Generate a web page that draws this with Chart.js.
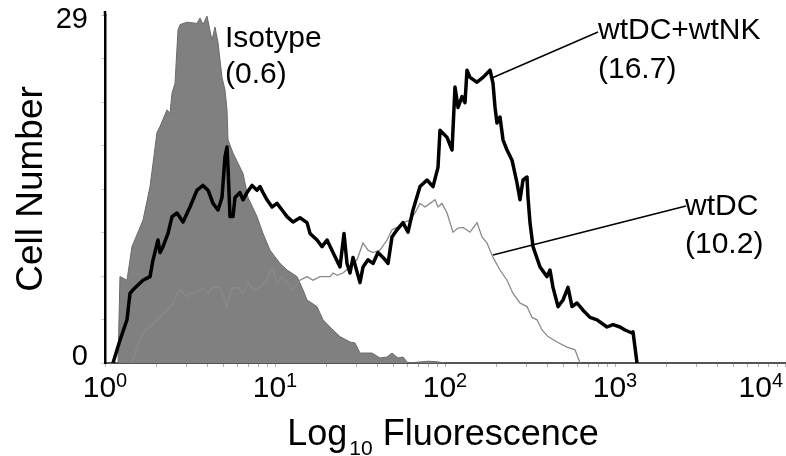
<!DOCTYPE html>
<html><head><meta charset="utf-8">
<script src="https://cdn.jsdelivr.net/npm/chart.js@4/dist/chart.umd.min.js"></script>
<style>html,body{margin:0;padding:0;background:#fff}#wrap{width:786px;height:456px;position:relative}</style>
</head><body><div id="wrap"><canvas id="c" width="786" height="456"></canvas></div>
<script>
// ---- data (fluorescence value, cell number) ----
const isoX = [1.193,1.225,1.347,1.441,1.673,1.840,2.022,2.106,2.316,2.412,2.479,2.581,2.688,2.762,3.037,3.477,3.622,3.772,3.981,4.261,4.437,4.621,4.878,5.080,5.220,5.291,5.662,6.484,6.939,7.838,8.502,9.346,10.70,11.77,13.47,14.61,15.43,17.67,19.16,21.94,24.12,27.62,29.55,31.62,37.21,41.46,45.60,48.77,52.91,56.62,60.59,80,90,100];
const isoY = [0,7.2,6.9,9.7,11.9,14.7,19.2,19.7,21.1,20.8,22.5,23.3,27.75,28.2,28.4,28.3,28.75,28.2,28.9,26.9,28.0,26.7,23.8,22.75,21.1,18.6,17.5,15.8,13.8,12.2,10.8,9.4,8.3,7.75,7.2,6.1,5.25,4.7,3.6,2.75,2.2,1.75,1.67,0.83,0.83,0.42,0.5,0.83,0.42,0.5,0,0.15,0.1,0];

const dcX = [1.441,1.543,1.673,1.917,2.316,2.512,2.762,3.037,3.162,3.477,3.772,4.036,4.261,4.748,5.220,5.586,6.059,6.484,6.939,7.425,8.163,8.975,9.603,10.27,11.00,11.77,12.76,14.03,15.43,16.73,18.40,21.07,21.94,23.16,25.12,27.62,30.37,32.94,35.25,37.72,41.46,45.60,48.77,52.20,56.62,62.26,66.62,71.29,76.28,81.62,87.35,90.96,96.0,102.8,111.4,119.3,127.6,140.3,154.3,165.1,176.7,191.6,210.6,231.6,251.2,276.2,303.7,324.9,347.8,372.1,403.5,456.0,522.0,581.8,622.5];
const dcY = [0,1.33,2.5,3.3,4.4,5.0,6.1,5.5,5.8,5.9,6.3,5.8,6.3,6.3,4.7,6.25,6.3,5.8,6.7,6.1,6.3,6.9,8.0,6.7,7.2,6.7,6.1,6.9,7.2,6.9,7.2,7.2,7.5,7.3,7.5,8.0,8.6,10.0,9.4,9.2,9.4,10.25,11.1,11.3,11.7,11.9,12.5,13.3,13.0,13.3,13.6,13.0,13.3,12.5,10.9,11.25,11.3,10.9,11.7,10.5,10.0,8.8,7.75,6.9,5.8,5.0,4.7,3.8,3.6,2.75,2.2,1.75,1.33,1.1,0];

const nkX = [1.114,1.225,1.347,1.403,1.461,1.673,1.840,1.917,2.050,2.106,2.193,2.348,2.479,2.652,2.877,3.162,3.477,3.772,4.036,4.319,4.621,4.878,5.080,5.220,5.291,5.436,5.662,5.818,6.226,6.484,6.845,7.325,7.838,8.163,8.502,8.975,9.603,10.27,11.00,11.77,12.76,14.03,15.43,16.07,17.67,18.91,20.23,21.94,24.12,25.46,26.52,27.62,28.77,31.62,32.94,35.25,37.72,40.36,43.18,46.22,48.77,52.20,56.62,60.59,64.84,71.29,78.37,85.0,90.96,93.45,102.8,110.0,114.5,119.3,125.9,131.1,134.7,140.3,154.3,167.3,184.0,191.6,196.9,202.2,210.6,219.4,231.6,247.9,265.2,276.2,287.7,303.7,307.8,316.2,329.4,362.2,398.1,414.6,431.8,462.2,494.5,529.1,558.6,597.7,648.4,712.9,783.9,897.4,973.2,1070,1145,1259,1276,1347];
const nkY = [0,1.9,3.6,5.8,6.1,6.9,7.2,8.6,10.25,9.2,9.7,10.8,12.2,12.5,11.75,13.0,14.4,14.8,14.4,13.3,12.75,13.8,17.2,18.0,16.3,12.2,12.2,13.8,14.2,13.6,14.2,14.8,14.4,14.7,14.2,13.6,13.0,13.3,12.75,12.2,11.75,12.1,11.7,10.8,10.25,9.7,10.25,9.2,8.0,10.8,8.3,7.5,8.8,6.7,8.0,8.6,8.3,9.2,8.8,8.3,10.5,11.1,11.7,10.9,12.75,14.7,15.25,14.7,16.3,19.4,18.8,17.75,23.0,21.3,22.2,21.7,24.4,23.8,23.4,23.8,24.4,23.3,21.3,20.0,20.5,18.6,17.75,16.9,15.0,13.6,15.25,15.5,13.8,11.7,9.7,8.0,7.2,7.75,6.3,4.7,5.25,6.3,4.7,5.0,4.4,3.8,3.6,3.0,3.2,3.0,2.75,2.5,2.6,0];

// ---- axes ----
const xMin = 1, xMax = 10000;
const xDecades = [1, 10, 100, 1000, 10000];
const xExponents = ['0', '1', '2', '3', '4'];
const xMinorSteps = [2, 3, 4, 5, 6, 7, 8, 9];
const yMin = 0, yMax = 29;
const yTickVals = [0, 29];
const yTickLabels = ['0', '29'];
const yMinorCount = 8;

// ---- texts ----
const xTitleMain = 'Log', xTitleSub = '10', xTitleRest = 'Fluorescence';
const yTitle = 'Cell Number';
const isoLabel = ['Isotype', '(0.6)'];
const nkLabel = ['wtDC+wtNK', '(16.7)'];
const dcLabel = ['wtDC', '(10.2)'];
const nkPointer = {x: 188.8, y: 23.75};
const dcPointer = {x: 191.6, y: 9.0};

const pts = (xs, ys) => xs.map((x, i) => ({x: x, y: ys[i]}));
const xMinorTicks = [];
xDecades.forEach((d, i) => { xMinorTicks.push(d); if (i < xDecades.length - 1) xMinorSteps.forEach(m => xMinorTicks.push(d * m)); });
const yMinorTicks = [];
for (let i = 0; i <= yMinorCount; i++) yMinorTicks.push(yMax * i / yMinorCount);

const FONT = '"Liberation Sans", Arial, Helvetica, sans-serif';

const textPlugin = {
  id: 'texts',
  afterDraw(chart) {
    const ctx = chart.ctx, xs = chart.scales.x, ys = chart.scales.y, ca = chart.chartArea;
    ctx.save();
    ctx.fillStyle = '#000';
    ctx.strokeStyle = '#000'; ctx.lineWidth = 2.5;
    ctx.beginPath(); ctx.moveTo(ca.left, ca.top - 4); ctx.lineTo(ca.left, ca.top + 1); ctx.stroke();
    ctx.textBaseline = 'alphabetic'; ctx.textAlign = 'left';
    xDecades.forEach((v, i) => {
      const px = xs.getPixelForValue(v);
      ctx.font = '30px ' + FONT; const w1 = ctx.measureText('10').width;
      ctx.font = '20px ' + FONT; const w2 = ctx.measureText(xExponents[i]).width;
      let left = px - (w1 + w2) / 2;
      if (left + w1 + w2 > chart.width - 3) left = chart.width - 3 - w1 - w2;
      ctx.font = '30px ' + FONT; ctx.fillText('10', left, ca.bottom + 34);
      ctx.font = '20px ' + FONT; ctx.fillText(xExponents[i], left + w1, ca.bottom + 24);
    });
    ctx.textAlign = 'right'; ctx.font = '29px ' + FONT;
    yTickVals.forEach((v, i) => {
      const py = ys.getPixelForValue(v);
      const off = v === yMin ? 2 : 13;
      ctx.fillText(yTickLabels[i], ca.left - 17, py + off);
    });
    ctx.textAlign = 'left';
    ctx.font = '36px ' + FONT; const a = ctx.measureText(xTitleMain).width;
    ctx.font = '21px ' + FONT; const b = ctx.measureText(xTitleSub).width;
    ctx.font = '36px ' + FONT; const c = ctx.measureText(xTitleRest).width;
    const gap1 = 2, gap2 = 10;
    const total = a + gap1 + b + gap2 + c;
    let x0 = (ca.left + ca.right) / 2 - total / 2 - 2;
    ctx.font = '36px ' + FONT; ctx.fillText(xTitleMain, x0, 445);
    ctx.font = '21px ' + FONT; ctx.fillText(xTitleSub, x0 + a + gap1, 455);
    ctx.font = '36px ' + FONT; ctx.fillText(xTitleRest, x0 + a + gap1 + b + gap2, 445);
    ctx.save();
    ctx.translate(42, (ca.top + ca.bottom) / 2);
    ctx.rotate(-Math.PI / 2);
    ctx.textAlign = 'center'; ctx.font = '37px ' + FONT;
    ctx.fillText(yTitle, 0, 0);
    ctx.restore();
    ctx.strokeStyle = '#000'; ctx.lineWidth = 1.5;
    ctx.beginPath();
    ctx.moveTo(xs.getPixelForValue(nkPointer.x), ys.getPixelForValue(nkPointer.y)); ctx.lineTo(598, 32);
    ctx.moveTo(xs.getPixelForValue(dcPointer.x), ys.getPixelForValue(dcPointer.y)); ctx.lineTo(686, 206);
    ctx.stroke();
    ctx.textAlign = 'left'; ctx.font = '30px ' + FONT;
    ctx.fillText(isoLabel[0], 225, 47); ctx.fillText(isoLabel[1], 225, 83);
    ctx.fillText(nkLabel[0], 598, 39); ctx.fillText(nkLabel[1], 598, 78);
    ctx.fillText(dcLabel[0], 685, 215); ctx.fillText(dcLabel[1], 685, 253);
    ctx.restore();
  }
};

new Chart(document.getElementById('c').getContext('2d'), {
  type: 'line',
  data: {
    datasets: [
      {label: 'wtDC+wtNK', data: pts(nkX, nkY), borderColor: '#000', borderWidth: 3.5, pointRadius: 0, fill: false, tension: 0, order: 0, borderJoinStyle: 'round'},
      {label: 'wtDC', data: pts(dcX, dcY), borderColor: '#8a8a8a', borderWidth: 1.3, pointRadius: 0, fill: false, tension: 0, order: 1},
      {label: 'Isotype', data: pts(isoX, isoY), borderColor: '#6a6a6a', backgroundColor: '#808080', borderWidth: 1, pointRadius: 0, fill: 'origin', tension: 0, order: 2}
    ]
  },
  options: {
    responsive: false, animation: false, devicePixelRatio: 1,
    layout: {padding: {left: 105, right: 1, top: 15, bottom: 93}},
    plugins: {legend: {display: false}, tooltip: {enabled: false}, title: {display: false}},
    scales: {
      x: {
        type: 'logarithmic', min: xMin, max: xMax, position: 'bottom',
        afterFit(s) { s.height = 0; },
        afterBuildTicks(s) { s.ticks = xMinorTicks.map(v => ({value: v})); },
        ticks: {display: false},
        grid: {display: true, drawOnChartArea: false, drawTicks: true, tickLength: 4, color: '#b0b0b0', lineWidth: 1},
        border: {display: true, color: '#555', width: 2}
      },
      y: {
        type: 'linear', min: yMin, max: yMax, position: 'left',
        afterFit(s) { s.width = 0; },
        afterBuildTicks(s) { s.ticks = yMinorTicks.map(v => ({value: v})); },
        ticks: {display: false},
        grid: {display: true, drawOnChartArea: false, drawTicks: true, tickLength: 4, color: '#cccccc', lineWidth: 1},
        border: {display: true, color: '#000', width: 2.5}
      }
    }
  },
  plugins: [textPlugin]
});
</script>
</body></html>
